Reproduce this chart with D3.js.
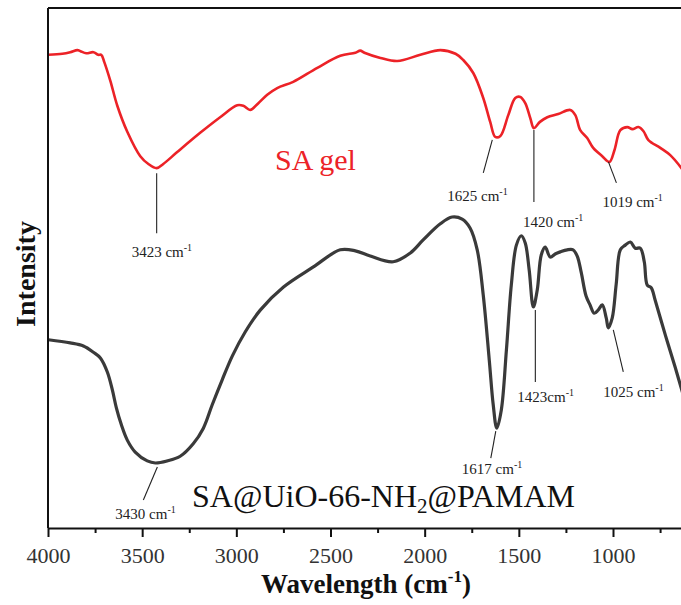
<!DOCTYPE html>
<html>
<head>
<meta charset="utf-8">
<script src="https://cdn.jsdelivr.net/npm/d3@7/dist/d3.min.js"></script>
<style>
  html, body { margin: 0; padding: 0; background: #fff; }
  svg text { font-family: "Liberation Serif", "Times New Roman", Times, "Nimbus Roman", "DejaVu Serif", serif; }
</style>
</head>
<body>
<svg id="chart" width="681" height="605"></svg>
<script>
// FTIR spectra: wavenumber (cm-1) and relative intensity (arbitrary units)
const saGelWn = [3998, 3924, 3882, 3844, 3828, 3797, 3759, 3733, 3717, 3701, 3669, 3632, 3579, 3510, 3467, 3423, 3388, 3314, 3192, 3086, 2995, 2963, 2926, 2883, 2836, 2783, 2698, 2570, 2448, 2368, 2342, 2320, 2235, 2145, 2023, 1917, 1836, 1795, 1742, 1689, 1652, 1625, 1598, 1556, 1519, 1492, 1466, 1439, 1420, 1388, 1349, 1291, 1227, 1200, 1174, 1137, 1105, 1057, 1019, 992, 961, 924, 897, 865, 838, 812, 749, 696, 632];
const saGelI  = [91.0, 91.2, 91.5, 91.9, 91.7, 91.3, 91.5, 91.0, 91.0, 89.6, 86.0, 81.2, 76.2, 71.5, 70.0, 69.2, 70.0, 72.3, 76.0, 79.0, 81.3, 81.2, 80.4, 81.7, 83.3, 84.6, 85.8, 88.5, 90.8, 91.4, 91.8, 91.4, 90.4, 89.8, 91.0, 91.9, 91.2, 90.0, 87.5, 82.7, 78.1, 75.2, 75.4, 79.4, 82.7, 82.9, 81.7, 78.8, 76.9, 78.1, 79.0, 79.6, 80.4, 79.4, 76.5, 75.0, 73.1, 71.5, 70.4, 72.7, 76.5, 77.1, 76.7, 77.1, 76.3, 74.6, 73.1, 71.7, 69.0];

const compositeWn = [3998, 3882, 3812, 3759, 3722, 3685, 3658, 3637, 3610, 3579, 3537, 3473, 3430, 3367, 3298, 3229, 3175, 3128, 3075, 3021, 2953, 2873, 2751, 2591, 2448, 2368, 2289, 2167, 2076, 2008, 1917, 1854, 1801, 1759, 1721, 1689, 1657, 1636, 1617, 1593, 1566, 1540, 1513, 1487, 1466, 1445, 1423, 1402, 1381, 1360, 1333, 1307, 1280, 1243, 1212, 1190, 1169, 1143, 1122, 1100, 1079, 1057, 1036, 1025, 1004, 983, 961, 935, 908, 882, 855, 834, 818, 797, 776, 722, 669, 627];
const compositeI  = [36.2, 35.6, 35.0, 33.8, 32.7, 30.0, 26.5, 23.1, 19.8, 16.9, 14.6, 12.9, 12.5, 12.9, 13.8, 16.2, 19.2, 23.7, 28.5, 33.1, 37.7, 41.9, 46.3, 50.2, 53.5, 53.3, 52.3, 51.2, 52.9, 55.4, 58.5, 59.8, 59.4, 57.7, 53.5, 44.8, 32.3, 23.7, 19.2, 22.7, 34.2, 46.7, 54.4, 56.2, 54.8, 49.6, 42.5, 45.8, 52.5, 54.0, 52.1, 52.7, 53.1, 53.5, 53.5, 52.3, 49.2, 44.6, 42.9, 41.3, 41.9, 42.9, 40.4, 38.5, 40.4, 46.9, 53.5, 54.4, 55.0, 53.8, 53.8, 51.2, 46.7, 46.2, 43.8, 37.1, 30.8, 25.6];

// Axis ticks
const majorTicks = [4000, 3500, 3000, 2500, 2000, 1500, 1000];
const minorTicks = [3750, 3250, 2750, 2250, 1750, 1250, 750];

// Series names and labelled bands
const seriesNames = ["SA gel", "SA@UiO-66-NH2@PAMAM"];
const saGelPeaks = [3423, 1625, 1420, 1019];
const compositePeaks = [3430, 1617, 1423, 1025];
const compositePeakText = ["3430 cm", "1617 cm", "1423cm", "1025 cm"];

// ---- layout ----
const W = 681, H = 605;
const plotLeft = 48, plotTop = 8, plotBottom = 528;
const pxPer1000 = 565 / 3;
const serif = '"Liberation Serif", "Times New Roman", Times, "Nimbus Roman", "DejaVu Serif", serif';

const svg = d3.select("#chart");

const x = d3.scaleLinear()
  .domain([4000, 630])
  .range([plotLeft, plotLeft + 3370 * pxPer1000 / 1000]);
const y = d3.scaleLinear().domain([0, 100]).range([plotBottom, plotTop]);

const red = "#ec2227";
const dark = "#3a3a3a";

svg.append("defs").append("clipPath").attr("id", "plotClip")
  .append("rect").attr("x", plotLeft).attr("y", plotTop)
  .attr("width", W - plotLeft).attr("height", plotBottom - plotTop);

const line = d3.line()
  .x(d => x(d[0]))
  .y(d => y(d[1]))
  .curve(d3.curveCatmullRom.alpha(0.5));

const saGel = d3.zip(saGelWn, saGelI);
const composite = d3.zip(compositeWn, compositeI);

const plot = svg.append("g").attr("clip-path", "url(#plotClip)");
plot.append("path").datum(saGel)
  .attr("fill", "none").attr("stroke", red).attr("stroke-width", 2.6)
  .attr("stroke-linejoin", "round").attr("d", line);
plot.append("path").datum(composite)
  .attr("fill", "none").attr("stroke", dark).attr("stroke-width", 3.2)
  .attr("stroke-linejoin", "round").attr("d", line);

// Frame: left axis and top border
svg.append("line").attr("x1", plotLeft).attr("x2", plotLeft).attr("y1", plotTop).attr("y2", plotBottom)
  .attr("stroke", "#111").attr("stroke-width", 2);
svg.append("line").attr("x1", plotLeft).attr("x2", W).attr("y1", plotTop).attr("y2", plotTop)
  .attr("stroke", "#111").attr("stroke-width", 2);

// Bottom axis
const xAxis = svg.append("g").attr("transform", `translate(0,${plotBottom})`)
  .call(d3.axisBottom(x).tickValues(majorTicks).tickFormat(d3.format("d"))
    .tickSize(9).tickSizeOuter(0).tickPadding(10));
xAxis.attr("font-family", null);
xAxis.select(".domain").attr("stroke", "#111").attr("stroke-width", 2);
xAxis.selectAll(".tick line").attr("stroke", "#111").attr("stroke-width", 2);
xAxis.selectAll(".tick text")
  .style("font-family", serif).attr("font-size", 22).attr("fill", "#333");

const xMinor = svg.append("g").attr("transform", `translate(0,${plotBottom})`)
  .call(d3.axisBottom(x).tickValues(minorTicks).tickFormat("").tickSize(5).tickSizeOuter(0));
xMinor.select(".domain").remove();
xMinor.selectAll(".tick line").attr("stroke", "#111").attr("stroke-width", 2);

// Axis titles
const xTitle = svg.append("text")
  .attr("x", 366).attr("y", 593).attr("text-anchor", "middle")
  .attr("font-weight", "bold").attr("font-size", 27).attr("fill", "#111");
xTitle.append("tspan").text("Wavelength (cm");
xTitle.append("tspan").attr("font-size", 17).attr("dy", -11).text("-1");
xTitle.append("tspan").attr("dy", 11).text(")");

svg.append("text")
  .attr("transform", "translate(35,274) rotate(-90)")
  .attr("text-anchor", "middle")
  .attr("font-weight", "bold").attr("font-size", 28).attr("fill", "#111")
  .text("Intensity");

// Series names
svg.append("text").attr("x", 275).attr("y", 170)
  .attr("font-size", 30).attr("fill", red).text(seriesNames[0]);

const compName = svg.append("text").attr("x", 192).attr("y", 507)
  .attr("font-size", 32).attr("fill", "#111");
compName.append("tspan").text("SA@UiO-66-NH");
compName.append("tspan").attr("font-size", 21).attr("dy", 6).text("2");
compName.append("tspan").attr("dy", -6).text("@PAMAM");

// Peak annotations: leader line offsets and label offsets relative to the band point
const leaderLayout = [
  // SA gel
  { l: [0, 5, 0, 65],  t: [-25, 89] },
  { l: [-3, 3, -12, 36], t: [-48, 64] },
  { l: [0, 2, 0, 74],  t: [-11, 99] },
  { l: [-1, 0, 7, 21], t: [-7, 45] },
  // composite
  { l: [2, 4, -12, 37], t: [-40, 56] },
  { l: [-1, 3, -6, 30], t: [-35, 46] },
  { l: [2, 3, 2, 75],  t: [-16, 95] },
  { l: [5, 2, 15, 44], t: [-5, 69] }
];

function valueAt(series, wn) {
  return series.find(d => d[0] === wn)[1];
}

const notes = [
  ...saGelPeaks.map(wn => ({ wn, v: valueAt(saGel, wn), text: wn + " cm" })),
  ...compositePeaks.map((wn, i) => ({ wn, v: valueAt(composite, wn), text: compositePeakText[i] }))
];

notes.forEach((n, i) => {
  const px = x(n.wn), py = y(n.v);
  const L = leaderLayout[i];
  svg.append("line")
    .attr("x1", px + L.l[0]).attr("y1", py + L.l[1])
    .attr("x2", px + L.l[2]).attr("y2", py + L.l[3])
    .attr("stroke", "#222").attr("stroke-width", 1.1);
  const t = svg.append("text")
    .attr("x", px + L.t[0]).attr("y", py + L.t[1])
    .attr("font-size", 15).attr("fill", "#222");
  t.append("tspan").text(n.text);
  t.append("tspan").attr("font-size", 10).attr("dy", -6).text("-1");
});
</script>
</body>
</html>
